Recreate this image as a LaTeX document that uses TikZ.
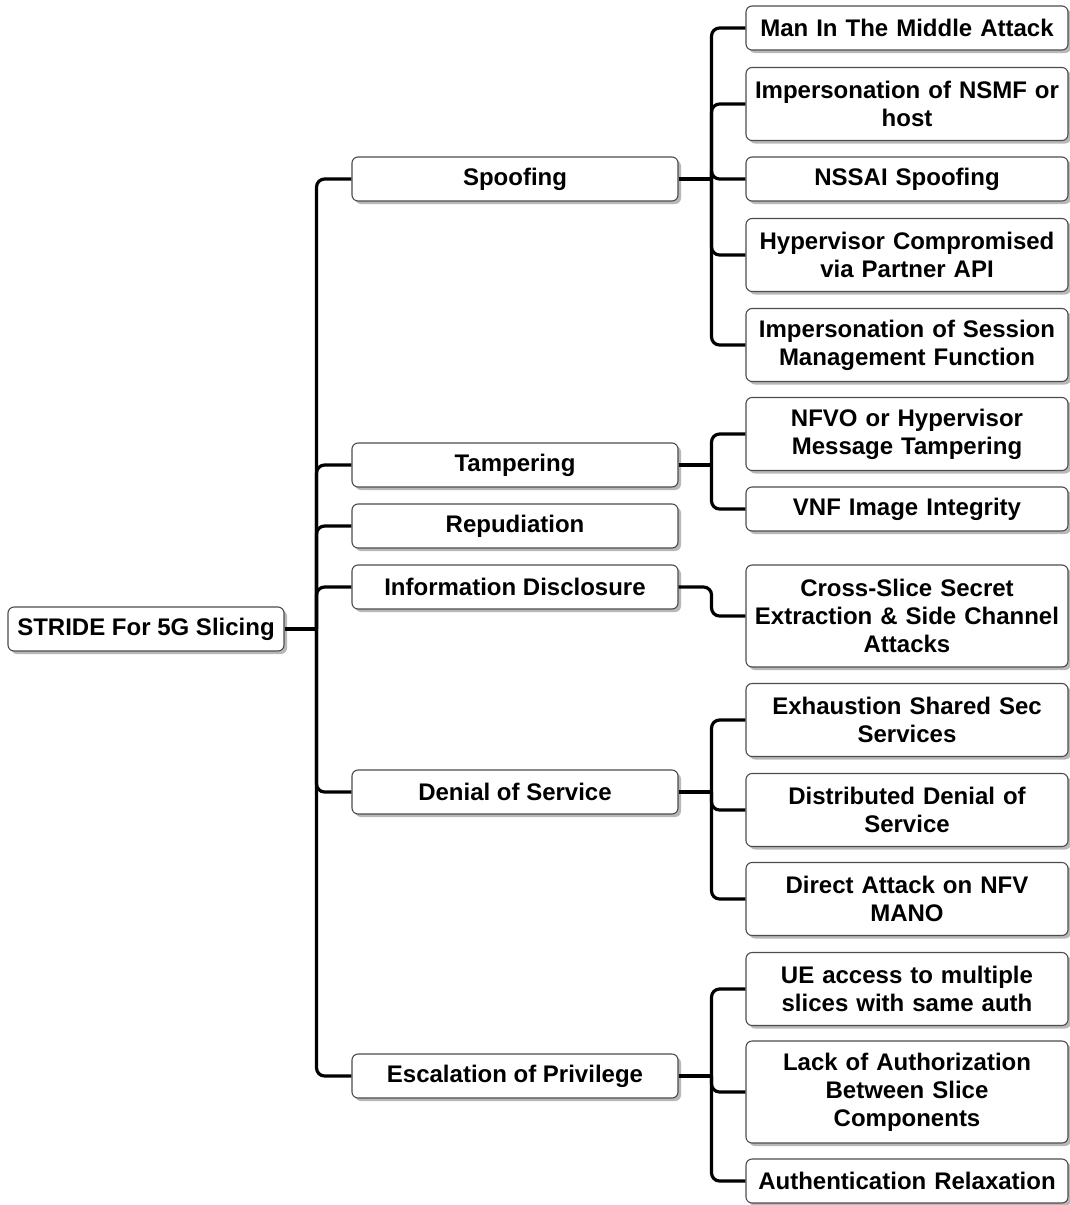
\documentclass[tikz,border=0pt]{standalone}
\usepackage{fontspec}
\setmainfont{Liberation Sans}
\usetikzlibrary{shadows}
\begin{document}
\begin{tikzpicture}[x=1pt,y=-1pt,
  box/.style={draw=black!70, line width=1.1pt, fill=white, rounded corners=6pt,
    align=center, inner sep=0pt, font=\fontsize{24}{28}\selectfont\bfseries,
    drop shadow={shadow xshift=3pt, shadow yshift=-3pt, fill=black!35, opacity=0.8}},
  rootbox/.style={box, minimum width=276pt, minimum height=44pt},
  topic/.style={box, minimum width=326pt, minimum height=44pt},
  leaf/.style={box, text width=316pt, minimum width=322pt, minimum height=#1},
  leaf/.default=44pt,
  link/.style={line width=3.2pt, rounded corners=8pt}
]
\useasboundingbox (0,0) rectangle (1069,1205);

% root and categories
\node[rootbox] (root) at (146,629) {STRIDE For 5G Slicing};
\node[topic] (sp) at (515,179) {Spoofing};
\node[topic] (ta) at (515,465) {Tampering};
\node[topic] (re) at (515,526) {Repudiation};
\node[topic] (in) at (515,587) {Information Disclosure};
\node[topic] (de) at (515,792) {Denial of Service};
\node[topic] (es) at (515,1076) {Escalation of Privilege};

% threats
\node[leaf] (m1) at (907,28) {Man In The Middle Attack};
\node[leaf=73pt] (m2) at (907,104) {Impersonation of NSMF or\\host};
\node[leaf] (m3) at (907,179) {NSSAI Spoofing};
\node[leaf=73pt] (m4) at (907,255) {Hypervisor Compromised\\via Partner API};
\node[leaf=73pt] (m5) at (907,345) {Impersonation of Session\\Management Function};
\node[leaf=73pt] (t1) at (907,434) {NFVO or Hypervisor\\Message Tampering};
\node[leaf] (t2) at (907,509) {VNF Image Integrity};
\node[leaf=102pt] (i1) at (907,616) {Cross-Slice Secret\\Extraction \& Side Channel\\Attacks};
\node[leaf=73pt] (d1) at (907,720) {Exhaustion Shared Sec\\Services};
\node[leaf=73pt] (d2) at (907,810) {Distributed Denial of\\Service};
\node[leaf=73pt] (d3) at (907,899) {Direct Attack on NFV\\MANO};
\node[leaf=73pt] (e1) at (907,989) {UE access to multiple\\slices with same auth};
\node[leaf=102pt] (e2) at (907,1092) {Lack of Authorization\\Between Slice\\Components};
\node[leaf] (e3) at (907,1181) {Authentication Relaxation};

% junction points
\coordinate (jr) at ([xshift=32pt]root.east);
\coordinate (js) at ([xshift=33pt]sp.east);
\coordinate (jt) at ([xshift=33pt]ta.east);
\coordinate (jd) at ([xshift=33pt]de.east);
\coordinate (je) at ([xshift=33pt]es.east);

% connectors
\begin{scope}[on background layer/.style={}]
\draw[link] (root.east) -- (jr);
\foreach \c in {sp,ta,re,in,de,es} \draw[link] (jr) |- (\c.west);
\draw[link] (sp.east) -- (js);
\foreach \c in {m1,m2,m3,m4,m5} \draw[link] (js) |- (\c.west);
\draw[link] (ta.east) -- (jt);
\foreach \c in {t1,t2} \draw[link] (jt) |- (\c.west);
\draw[link] (in.east) -- ++(33pt,0) |- (i1.west);
\draw[link] (de.east) -- (jd);
\foreach \c in {d1,d2,d3} \draw[link] (jd) |- (\c.west);
\draw[link] (es.east) -- (je);
\foreach \c in {e1,e2,e3} \draw[link] (je) |- (\c.west);
\end{scope}
\end{tikzpicture}
\end{document}
